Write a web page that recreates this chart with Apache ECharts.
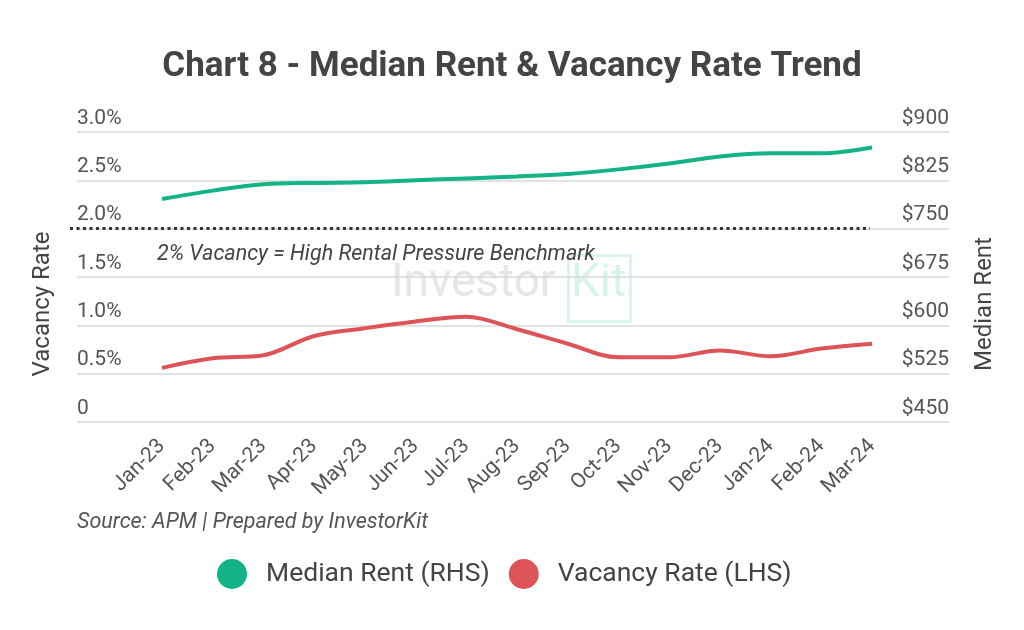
<!DOCTYPE html>
<html><head><meta charset="utf-8">
<script src="https://cdn.jsdelivr.net/npm/echarts@6/dist/echarts.min.js"></script>
<style>html,body{margin:0;padding:0;background:#fff}#c{width:1024px;height:630px}</style>
</head><body><div id="c"></div>
<script>
const categories = ['Jan-23','Feb-23','Mar-23','Apr-23','May-23','Jun-23','Jul-23','Aug-23','Sep-23','Oct-23','Nov-23','Dec-23','Jan-24','Feb-24','Mar-24'];
const medianRent = [796, 809, 819, 821, 822, 825, 828, 831, 835, 842, 851, 862, 867, 867, 876];
const vacancyRate = [0.56, 0.66, 0.69, 0.89, 0.97, 1.04, 1.09, 0.96, 0.81, 0.67, 0.67, 0.74, 0.68, 0.76, 0.81];
const vacancyAxis = [0, 3, 0.5];   // min, max, interval
const rentAxis = [450, 900, 75];   // min, max, interval
const benchmark = 2;
const seriesNames = ['Median Rent (RHS)', 'Vacancy Rate (LHS)'];
const axisNames = ['Vacancy Rate', 'Median Rent'];
const colors = ['#13b386', '#de5358'];

const chart = echarts.init(document.getElementById('c'), null, {renderer: 'canvas'});
const FONT = 'Roboto';
const gTop = 132, gBottom = 208;
const hiddenY = (grid, a) => ({type: 'value', gridIndex: grid, min: a[0], max: a[1], interval: a[2], show: false});

chart.setOption({
  backgroundColor: '#fff',
  animation: false,
  title: {
    text: 'Chart 8 - Median Rent & Vacancy Rate Trend',
    left: 'center', top: 45,
    textStyle: {fontSize: 35, fontWeight: 'bold', fontFamily: FONT, color: '#444'}
  },
  legend: {
    data: seriesNames, icon: 'circle', itemWidth: 30, itemHeight: 30, itemGap: 19,
    left: 212, top: 554,
    textStyle: {fontSize: 26.5, color: '#444', fontFamily: FONT, padding: [0, 0, 0, 14]}
  },
  grid: [
    {left: 77, right: 75, top: gTop, bottom: gBottom},
    {left: 136.6, right: 126.6, top: gTop, bottom: gBottom},
    {left: 70, right: 154, top: gTop, bottom: gBottom}
  ],
  xAxis: [
    {type: 'category', gridIndex: 0, data: categories, show: false},
    {type: 'category', gridIndex: 1, data: categories,
     axisLine: {show: false}, axisTick: {show: false},
     axisLabel: {rotate: 45, margin: 21, interval: 0, fontSize: 21, color: '#555', fontFamily: FONT}},
    {type: 'value', gridIndex: 2, min: 0, max: 1, show: false}
  ],
  yAxis: [
    {type: 'value', gridIndex: 0, position: 'left', min: vacancyAxis[0], max: vacancyAxis[1], interval: vacancyAxis[2],
     axisLine: {show: false}, axisTick: {show: false},
     axisLabel: {inside: true, margin: 0, verticalAlign: 'bottom', padding: [0, 0, 3, 0], fontSize: 21, color: '#555', fontFamily: FONT,
       formatter: v => v === 0 ? '0' : v.toFixed(1) + '%'},
     splitLine: {show: true, lineStyle: {color: '#d9d9d9', width: 1.5}}},
    {type: 'value', gridIndex: 0, position: 'right', min: rentAxis[0], max: rentAxis[1], interval: rentAxis[2],
     axisLine: {show: false}, axisTick: {show: false},
     axisLabel: {inside: true, margin: 0, verticalAlign: 'bottom', padding: [0, 0, 3, 0], fontSize: 21, color: '#555', fontFamily: FONT,
       formatter: v => '$' + v},
     splitLine: {show: false}},
    hiddenY(1, vacancyAxis),
    hiddenY(1, rentAxis),
    hiddenY(2, vacancyAxis)
  ],
  graphic: [
    {type: 'text', x: 43, y: 304, rotation: Math.PI / 2, z: 5,
     style: {text: axisNames[0], font: '24px Roboto', fill: '#444', textAlign: 'center', textVerticalAlign: 'middle'}},
    {type: 'text', x: 985, y: 304, rotation: Math.PI / 2, z: 5,
     style: {text: axisNames[1], font: '24px Roboto', fill: '#444', textAlign: 'center', textVerticalAlign: 'middle'}},
    {type: 'text', left: 157, top: 244, z: 5,
     style: {text: '2% Vacancy = High Rental Pressure Benchmark', font: 'italic 21.5px Roboto', fill: '#444'}},
    {type: 'text', left: 77, top: 512, z: 5,
     style: {text: 'Source: APM | Prepared by InvestorKit', font: 'italic 21.5px Roboto', fill: '#555'}},
    {type: 'text', left: 391, top: 261, z: -1, silent: true,
     style: {text: 'Investor', font: '46px Roboto', fill: '#e6e6e6'}},
    {type: 'rect', left: 566, top: 253, z: -1, silent: true,
     shape: {width: 62, height: 66}, style: {fill: 'none', stroke: '#dcf4ec', lineWidth: 3}},
    {type: 'text', left: 571, top: 261, z: -1, silent: true,
     style: {text: 'Kit', font: '46px Roboto', fill: '#d8f3ea'}}
  ],
  series: [
    {name: seriesNames[0], type: 'line', xAxisIndex: 1, yAxisIndex: 3, data: medianRent,
     smooth: 0.35, showSymbol: false, color: colors[0], lineStyle: {width: 4, color: colors[0]}, z: 3},
    {name: seriesNames[1], type: 'line', xAxisIndex: 1, yAxisIndex: 2, data: vacancyRate,
     smooth: 0.35, showSymbol: false, color: colors[1], lineStyle: {width: 4, color: colors[1]}, z: 3},
    {name: 'Benchmark', type: 'line', xAxisIndex: 2, yAxisIndex: 4, data: [],
     markLine: {silent: true, symbol: 'none', label: {show: false},
       lineStyle: {type: [3, 3.5], color: '#333', width: 3},
       data: [{yAxis: benchmark}]}}
  ]
});
</script>
</body></html>
